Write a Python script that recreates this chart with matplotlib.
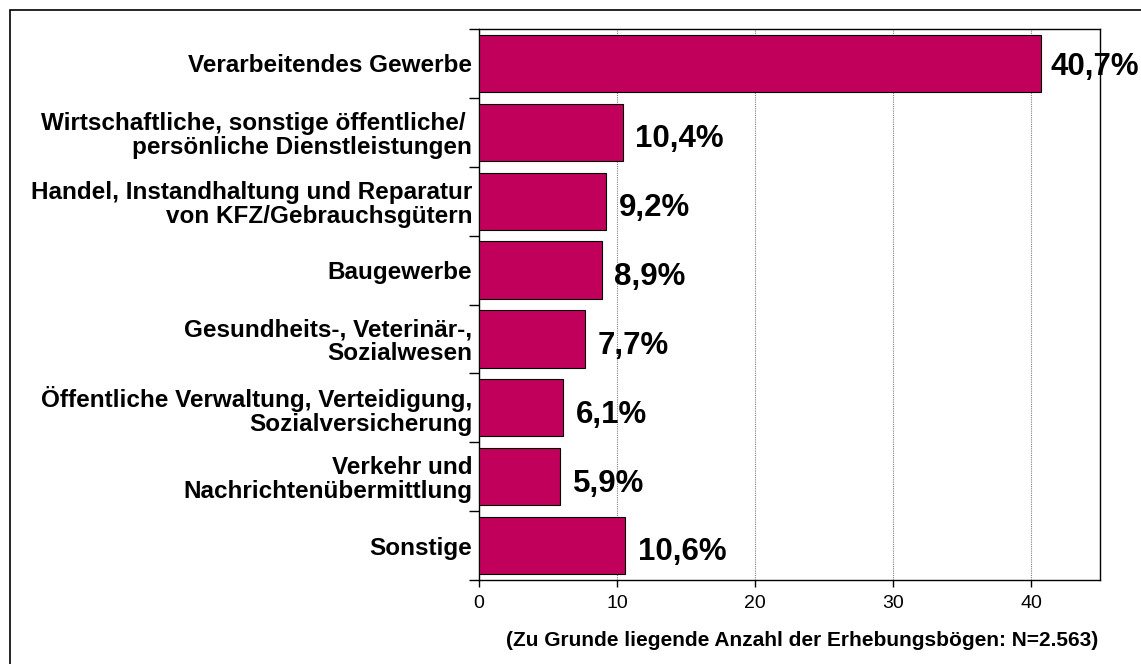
import matplotlib
matplotlib.use("Agg")
import matplotlib.pyplot as plt
import matplotlib.patches as patches
import numpy as np

# Branchen und Anteile (in %)
categories = [
    "Verarbeitendes Gewerbe",
    "Wirtschaftliche, sonstige öffentliche/ \npersönliche Dienstleistungen",
    "Handel, Instandhaltung und Reparatur\nvon KFZ/Gebrauchsgütern",
    "Baugewerbe",
    "Gesundheits-, Veterinär-,\nSozialwesen",
    "Öffentliche Verwaltung, Verteidigung,\nSozialversicherung",
    "Verkehr und\nNachrichtenübermittlung",
    "Sonstige",
]
values = [40.7, 10.4, 9.2, 8.9, 7.7, 6.1, 5.9, 10.6]
value_labels = ["40,7%", "10,4%", "9,2%", "8,9%", "7,7%", "6,1%", "5,9%", "10,6%"]
x_ticks = [0, 10, 20, 30, 40]
note = "(Zu Grunde liegende Anzahl der Erhebungsbögen: N=2.563)"

plt.rcParams["font.family"] = ["Liberation Sans", "DejaVu Sans"]

fig = plt.figure(figsize=(11.41, 6.64), dpi=100)
fig.patch.set_facecolor("white")

# Rahmen um die ganze Grafik (rechts/unten abgeschnitten wie im Original)
fig.add_artist(patches.Rectangle((10 / 1141, -0.05), 1.1, 1 - 10 / 664 + 0.05,
                                 transform=fig.transFigure, fill=False,
                                 edgecolor="black", linewidth=1.2))

ax = fig.add_axes([479 / 1141, 1 - 580 / 664, (1100 - 479) / 1141, (580 - 29) / 664])

n = len(categories)
y = np.arange(n)
ax.barh(y, values, height=0.83, color="#C0005A", edgecolor="black",
        linewidth=0.8, zorder=3)

ax.set_xlim(0, 45)
ax.set_ylim(n - 0.5, -0.5)

# Kategorienbeschriftungen
ax.set_yticks(y)
ax.set_yticklabels(categories, fontsize=17.5, fontweight="bold", ha="right",
                   linespacing=1.05)
ax.tick_params(axis="y", which="major", length=0, pad=5)
ax.set_yticks(np.arange(n + 1) - 0.5, minor=True)
ax.tick_params(axis="y", which="minor", length=7, width=1, direction="out")

ax.set_xticks(x_ticks)
ax.set_xticklabels([str(t) for t in x_ticks], fontsize=14)
ax.tick_params(axis="x", length=5, width=1, direction="out", pad=6)

ax.grid(axis="x", linestyle=(0, (1, 1)), color="#808080", linewidth=0.8, zorder=0)

for s in ax.spines.values():
    s.set_linewidth(1.0)

# Werte rechts neben den Balken
for i, (v, lab) in enumerate(zip(values, value_labels)):
    dy = 0.05 if i == 0 else 0.1
    dx = 7 if i == 0 else 9
    ax.annotate(lab, (v, i + dy), xytext=(dx, 0), textcoords="offset points",
                ha="left", va="center", fontsize=22.5, fontweight="bold",
                annotation_clip=False, clip_on=False)

fig.text(802 / 1141, 1 - 641 / 664, note, ha="center", va="center",
         fontsize=15, fontweight="bold")

fig.savefig("out.png", dpi=100, facecolor="white")
